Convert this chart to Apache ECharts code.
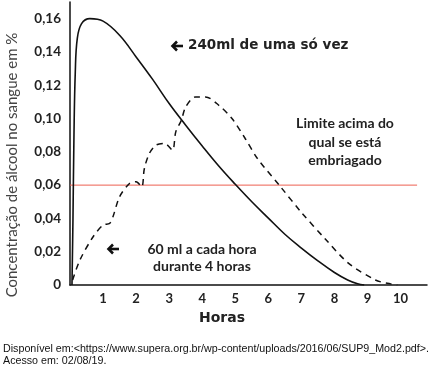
<!DOCTYPE html>
<html>
<head>
<meta charset="utf-8">
<script src="https://cdn.jsdelivr.net/npm/echarts@6/dist/echarts.min.js"></script>
<style>html,body{margin:0;padding:0;background:#fff}#c{width:431px;height:366px}</style>
</head>
<body>
<div id="c"></div>
<script>
// Hours (x) and blood alcohol concentration (%)
var singleDoseHours = [0.06, 0.09, 0.12, 0.16, 0.22, 0.35, 0.6, 1.0, 1.5, 2.0, 2.5, 3.0, 3.5, 4.0, 4.5, 5.0, 5.5, 6.0, 6.5, 7.0, 7.5, 8.0, 8.4, 8.7, 8.9];
var singleDoseConc  = [0, 0.04, 0.09, 0.128, 0.148, 0.157, 0.16, 0.1585, 0.15, 0.137, 0.1235, 0.109, 0.096, 0.0835, 0.0715, 0.0605, 0.05, 0.0402, 0.0305, 0.0222, 0.0145, 0.0075, 0.003, 0.0007, 0];

var hourlyDoseHours = [0.08, 0.3, 0.7, 1.0, 1.2, 1.3, 1.5, 1.8, 2.0, 2.17, 2.25, 2.4, 2.6, 2.86, 3.1, 3.2, 3.37, 3.5, 3.8, 4.1, 4.5, 4.9, 5.3, 5.67, 6.37, 7.0, 7.73, 8.43, 9.24, 9.6, 9.9];
var hourlyDoseConc  = [0.003, 0.015, 0.029, 0.036, 0.037, 0.041, 0.053, 0.061, 0.062, 0.059, 0.07, 0.079, 0.084, 0.085, 0.081, 0.092, 0.099, 0.107, 0.113, 0.113, 0.108, 0.1, 0.088, 0.076, 0.059, 0.0436, 0.0275, 0.013, 0.003, 0.001, 0];

var limitValue = 0.06;
var limitHours = [0, 10.5];

var xTickLabels = ['', '1', '2', '3', '4', '5', '6', '7', '8', '9', '10'];
var yTickLabels = ['0', '0,02', '0,04', '0,06', '0,08', '0,10', '0,12', '0,14', '0,16'];

var yAxisTitle = 'Concentração de álcool no sangue em %';
var xAxisTitle = 'Horas';
var noteSingle = '240ml de uma só vez';
var noteHourly = ['60 ml a cada hora', 'durante 4 horas'];
var noteLimit = ['Limite acima do', 'qual se está', 'embriagado'];
var sourceLines = ['Disponível em:<https://www.supera.org.br/wp-content/uploads/2016/06/SUP9_Mod2.pdf>.', 'Acesso em: 02/08/19.'];

function pairs(xs, ys) { return xs.map(function (x, i) { return [x, ys[i]]; }); }

var chart = echarts.init(document.getElementById('c'), null, { renderer: 'canvas' });
var calibri = 'Lato, "Open Sans", sans-serif';

function arrow(cx, cy) {
  return {
    type: 'group', x: cx, y: cy,
    children: [
      { type: 'line', shape: { x1: -4, y1: 0, x2: 6, y2: 0 }, style: { stroke: '#111', lineWidth: 2.6 } },
      { type: 'polyline', shape: { points: [[0, -4.5], [-4.5, 0], [0, 4.5]] }, style: { stroke: '#111', lineWidth: 2.6, fill: null } }
    ]
  };
}

chart.setOption({
  animation: false,
  grid: { left: 70, right: 4, top: 2, bottom: 81 },
  xAxis: {
    type: 'value', min: 0, max: 10.8, interval: 1,
    axisLine: { show: true, lineStyle: { color: '#111', width: 1.5 } },
    axisTick: { show: false },
    splitLine: { show: false },
    axisLabel: {
      margin: 7, color: '#222', fontFamily: calibri, fontWeight: 'bold', fontSize: 13,
      showMaxLabel: false,
      formatter: function (v) { var i = Math.round(v); return (Math.abs(v - i) < 1e-6 && i < xTickLabels.length) ? xTickLabels[i] : ''; }
    }
  },
  yAxis: {
    type: 'value', min: 0, max: 0.17, interval: 0.02,
    axisLine: { show: true, lineStyle: { color: '#111', width: 1.5 } },
    axisTick: { show: false },
    splitLine: { show: false },
    axisLabel: {
      margin: 9, color: '#222', fontFamily: calibri, fontWeight: 'bold', fontSize: 13.5,
      showMaxLabel: false,
      formatter: function (v) { var i = Math.round(v / 0.02); return (Math.abs(v - i * 0.02) < 1e-6 && i < yTickLabels.length) ? yTickLabels[i] : ''; }
    }
  },
  series: [
    {
      type: 'line', data: limitHours.map(function (h) { return [h, limitValue]; }),
      symbol: 'none', lineStyle: { color: '#ee5f50', width: 1 }, z: 1
    },
    {
      type: 'line', data: pairs(singleDoseHours, singleDoseConc),
      symbol: 'none', smooth: 0.4,
      lineStyle: { color: '#111', width: 1.6 }, z: 3
    },
    {
      type: 'line', data: pairs(hourlyDoseHours, hourlyDoseConc),
      symbol: 'none', smooth: 0.3,
      lineStyle: { color: '#111', width: 1.5, type: [6, 5] }, z: 2
    }
  ],
  graphic: [
    { type: 'text', x: 12, y: 165, rotation: Math.PI / 2,
      style: { text: yAxisTitle, fill: '#444', font: '15px ' + calibri, textAlign: 'center', textVerticalAlign: 'middle' } },
    { type: 'text', x: 222, y: 318,
      style: { text: xAxisTitle, fill: '#222', font: 'bold 14px "DejaVu Sans"', textAlign: 'center', textVerticalAlign: 'middle' } },
    arrow(177, 46),
    { type: 'text', x: 188, y: 45,
      style: { text: noteSingle, fill: '#222', font: 'bold 13.5px "DejaVu Sans"', textAlign: 'left', textVerticalAlign: 'middle' } },
    arrow(113, 249),
    { type: 'text', x: 202, y: 249,
      style: { text: noteHourly[0], fill: '#222', font: 'bold 14px ' + calibri, textAlign: 'center', textVerticalAlign: 'middle' } },
    { type: 'text', x: 202, y: 266,
      style: { text: noteHourly[1], fill: '#222', font: 'bold 14px ' + calibri, textAlign: 'center', textVerticalAlign: 'middle' } },
    { type: 'text', x: 345, y: 123,
      style: { text: noteLimit[0], fill: '#222', font: 'bold 14px ' + calibri, textAlign: 'center', textVerticalAlign: 'middle' } },
    { type: 'text', x: 345, y: 142,
      style: { text: noteLimit[1], fill: '#222', font: 'bold 14px ' + calibri, textAlign: 'center', textVerticalAlign: 'middle' } },
    { type: 'text', x: 345, y: 160,
      style: { text: noteLimit[2], fill: '#222', font: 'bold 14px ' + calibri, textAlign: 'center', textVerticalAlign: 'middle' } },
    { type: 'text', x: 3, y: 349,
      style: { text: sourceLines[0], fill: '#111', font: '10.7px "Liberation Sans", Arial, sans-serif', textAlign: 'left', textVerticalAlign: 'middle' } },
    { type: 'text', x: 3, y: 361,
      style: { text: sourceLines[1], fill: '#111', font: '10.7px "Liberation Sans", Arial, sans-serif', textAlign: 'left', textVerticalAlign: 'middle' } }
  ]
});
</script>
</body>
</html>
